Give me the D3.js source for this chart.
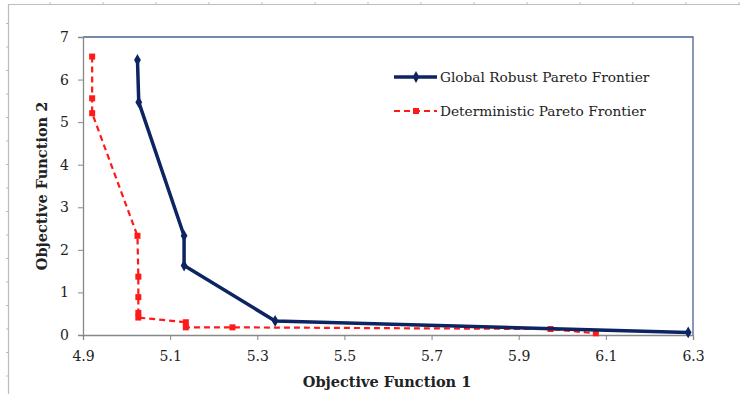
<!DOCTYPE html>
<html>
<head>
<meta charset="utf-8">
<script src="https://cdn.jsdelivr.net/npm/d3@7"></script>
<style>
  body { margin: 0; background: #fff; }
  svg text { font-family: "DejaVu Serif", serif; fill: #222; }
</style>
</head>
<body>
<script>
// data
const robustX = [5.025, 5.028, 5.132, 5.132, 5.341, 6.289];
const robustY = [6.46, 5.47, 2.33, 1.63, 0.33, 0.06];

const detX = [4.921, 4.921, 4.921, 5.025, 5.027, 5.027, 5.027, 5.027, 5.136, 5.136, 5.243, 5.973, 6.077];
const detY = [6.54, 5.56, 5.21, 2.33, 1.37, 0.89, 0.52, 0.41, 0.3, 0.18, 0.18, 0.14, 0.04];

const xTicks = [4.9, 5.1, 5.3, 5.5, 5.7, 5.9, 6.1, 6.3];
const yTicks = [0, 1, 2, 3, 4, 5, 6, 7];

const seriesNames = ["Global Robust Pareto Frontier", "Deterministic Pareto Frontier"];

const W = 740, H = 394;
const svg = d3.select("body").append("svg").attr("width", W).attr("height", H);

// outer frame (sheet-like border with small ticks)
const frame = svg.append("g").attr("stroke", "#bdbdbd").attr("stroke-width", 1.2);
frame.append("line").attr("x1", 8).attr("x2", W).attr("y1", 4.5).attr("y2", 4.5);
frame.append("line").attr("x1", 8.5).attr("x2", 8.5).attr("y1", 4).attr("y2", H);
d3.range(50, W, 53).forEach(x => {
  frame.append("line").attr("x1", x).attr("x2", x).attr("y1", 2).attr("y2", 4).attr("stroke-width", 1);
});
d3.range(23.5, H, 23.5).forEach(y => {
  frame.append("line").attr("x1", 6).attr("x2", 8).attr("y1", y).attr("y2", y).attr("stroke-width", 1);
});

const x = d3.scaleLinear().domain([4.9, 6.3]).range([83, 693]);
const y = d3.scaleLinear().domain([0, 7]).range([335, 37]);

// plot area border (top/right)
svg.append("path")
  .attr("d", `M${x(4.9)},${y(7)}H${x(6.3)}V${y(0)}`)
  .attr("fill", "none").attr("stroke", "#4a6190").attr("stroke-width", 1.3);

// axes
const xAxis = svg.append("g").attr("transform", `translate(0,${y(0)})`)
  .call(d3.axisBottom(x).tickValues(xTicks).tickFormat(d3.format(".1f")).tickSize(5).tickPadding(11));
const yAxis = svg.append("g").attr("transform", `translate(${x(4.9)},0)`)
  .call(d3.axisLeft(y).tickValues(yTicks).tickFormat(d3.format("d")).tickSize(5).tickPadding(9));
[xAxis, yAxis].forEach(g => {
  g.select(".domain").attr("stroke", "#888").attr("stroke-width", 1.3);
  g.selectAll(".tick line").attr("stroke", "#888");
  g.selectAll("text").attr("font-size", 14).attr("fill", "#222")
    .attr("font-family", "DejaVu Serif, serif");
});
xAxis.selectAll(".tick line").attr("y1", 0).attr("y2", 5);

// lines
const robust = robustX.map((d, i) => [d, robustY[i]]);
const det = detX.map((d, i) => [d, detY[i]]);
const line = d3.line().x(d => x(d[0])).y(d => y(d[1]));

svg.append("path").datum(det).attr("d", line)
  .attr("fill", "none").attr("stroke", "#ff1a1a").attr("stroke-width", 2.2)
  .attr("stroke-dasharray", "6,4");
svg.selectAll(".sq").data(det).join("rect")
  .attr("x", d => x(d[0]) - 3).attr("y", d => y(d[1]) - 3)
  .attr("width", 6).attr("height", 6).attr("fill", "#ff1a1a");

svg.append("path").datum(robust).attr("d", line)
  .attr("fill", "none").attr("stroke", "#0d2462").attr("stroke-width", 3.5)
  .attr("stroke-linejoin", "round");
const diamond = d3.symbol().type(d3.symbolDiamond).size(40);
svg.selectAll(".dm").data(robust).join("path")
  .attr("d", diamond).attr("transform", d => `translate(${x(d[0])},${y(d[1])})`)
  .attr("fill", "#0d2462");

// legend
const leg = svg.append("g");
const lg1 = leg.append("g").attr("transform", "translate(0,77)");
lg1.append("line").attr("x1", 394).attr("x2", 437).attr("stroke", "#0d2462").attr("stroke-width", 3.5);
lg1.append("path").attr("d", diamond).attr("transform", "translate(416,0)").attr("fill", "#0d2462");
lg1.append("text").attr("x", 440).attr("y", 5).attr("font-size", 13.7).text(seriesNames[0]);

const lg2 = leg.append("g").attr("transform", "translate(0,111)");
lg2.append("line").attr("x1", 394).attr("x2", 437).attr("stroke", "#ff1a1a").attr("stroke-width", 2.2)
  .attr("stroke-dasharray", "6,4");
lg2.append("rect").attr("x", 413).attr("y", -3).attr("width", 6).attr("height", 6).attr("fill", "#ff1a1a");
lg2.append("text").attr("x", 440).attr("y", 5).attr("font-size", 13.7).text(seriesNames[1]);

// axis titles
svg.append("text").attr("x", 387).attr("y", 387).attr("text-anchor", "middle")
  .attr("font-size", 14.5).attr("font-weight", "bold").text("Objective Function 1");
svg.append("text").attr("transform", "translate(47,186) rotate(-90)").attr("text-anchor", "middle")
  .attr("font-size", 14.5).attr("font-weight", "bold").text("Objective Function 2");
</script>
</body>
</html>
